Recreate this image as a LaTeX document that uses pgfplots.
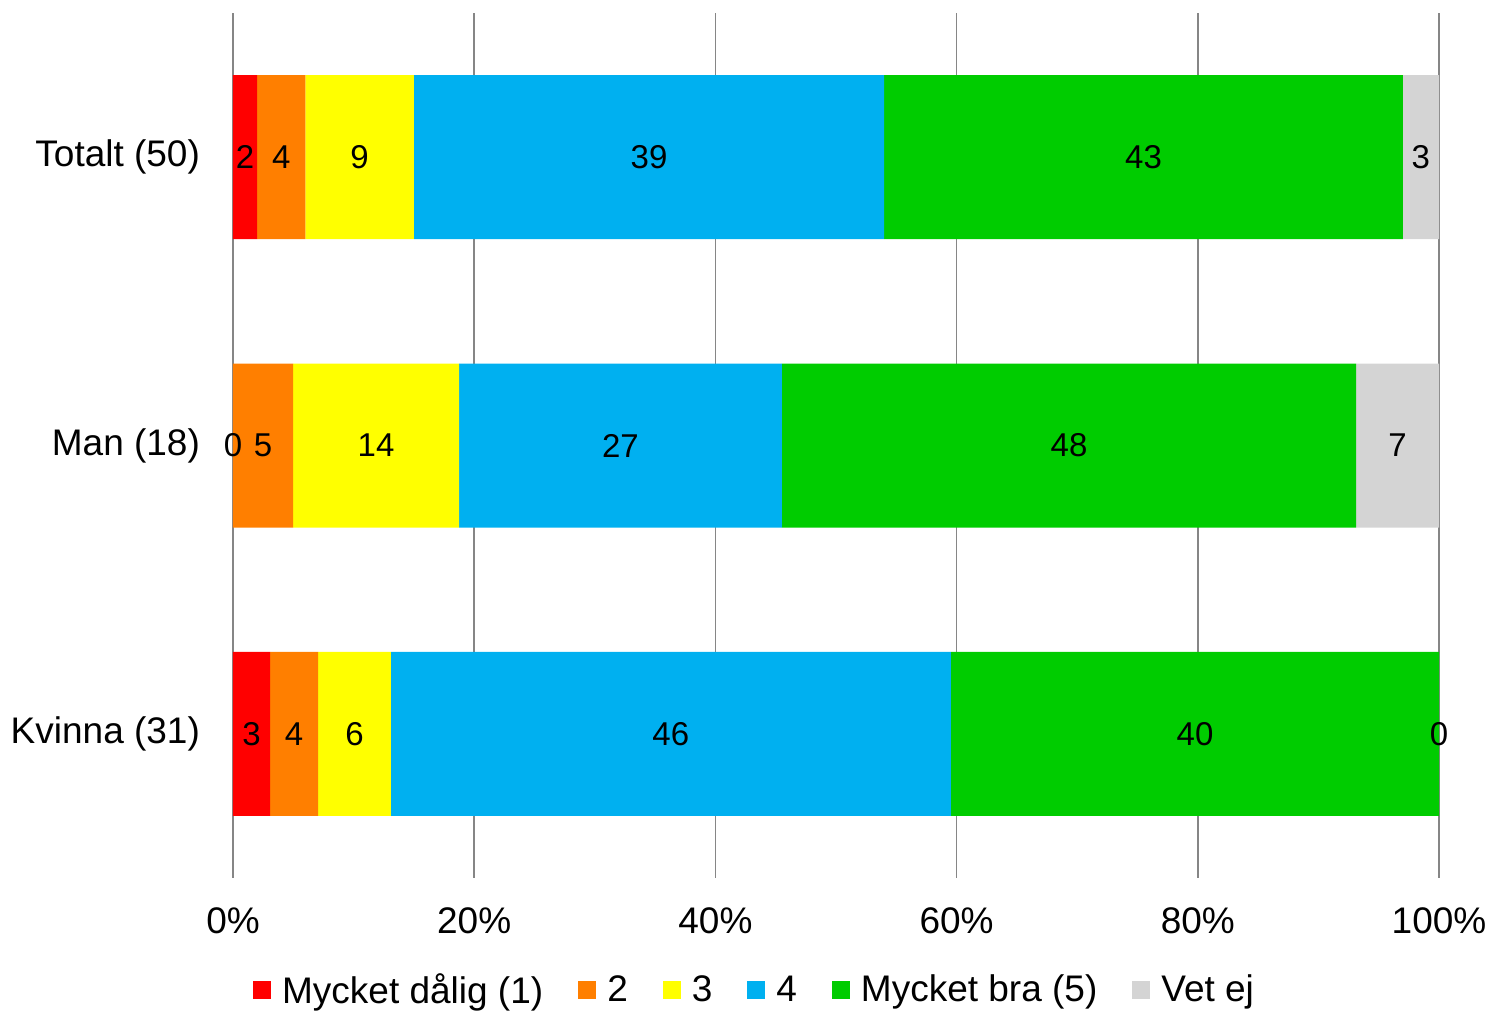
\documentclass[border=0pt]{standalone}
\usepackage{pgfplots}
\pgfplotsset{compat=1.18}
\usepackage{fontspec}
\setmainfont{Liberation Sans}
\definecolor{cRed}{HTML}{FF0000}
\definecolor{cOrange}{HTML}{FF7F00}
\definecolor{cYellow}{HTML}{FFFF00}
\definecolor{cBlue}{HTML}{00B0F0}
\definecolor{cGreen}{HTML}{00CC00}
\definecolor{cGrey}{HTML}{D4D4D4}
\definecolor{cGrid}{HTML}{868686}
\begin{document}
\begin{tikzpicture}
\pgfplotsset{common/.style={width=603pt,height=432.5pt,scale only axis,
  at={(0,0)},anchor=south west,xmin=0,xmax=100,ymin=-0.5,ymax=2.5,y dir=reverse}}
\begin{axis}[common, xbar stacked, bar width=82pt,
  xtick={0,20,40,60,80,100},
  xticklabels={0\%,20\%,40\%,60\%,80\%,100\%},
  ytick={0,1,2},
  yticklabels={Totalt (50),Man (18),Kvinna (31)},
  xmajorgrids, grid style={cGrid,line width=0.75pt},
  axis line style={draw=none}, major tick length=0pt,
  ticklabel style={font=\fontsize{18.5}{22}\selectfont},
  xticklabel style={anchor=base,yshift=-27.5pt},
  yticklabel style={xshift=-13pt},
  legend columns=6,
  legend image code/.code={\fill[#1] (0pt,-4.5pt) rectangle (9pt,4.5pt);},
  legend style={at={(axis description cs:0.4333,-0.1295)},anchor=center,
    draw=none,fill=none,inner sep=0pt,
    font=\fontsize{18.5}{22}\selectfont,
    /tikz/every odd column/.append style={column sep=3.5pt},
    /tikz/every even column/.append style={column sep=15.5pt}},
]
\addplot[fill=cRed,draw=none] coordinates {(2,0) (0,1) (3.07,2)};
\addplot[fill=cOrange,draw=none] coordinates {(4,0) (4.98,1) (3.98,2)};
\addplot[fill=cYellow,draw=none] coordinates {(9,0) (13.76,1) (6.05,2)};
\addplot[fill=cBlue,draw=none] coordinates {(39,0) (26.78,1) (46.43,2)};
\addplot[fill=cGreen,draw=none] coordinates {(43,0) (47.6,1) (40.47,2)};
\addplot[fill=cGrey,draw=none] coordinates {(3,0) (6.88,1) (0,2)};
\legend{Mycket dålig (1),2,3,4,Mycket bra (5),Vet ej}
\end{axis}
\begin{axis}[common, hide axis, clip=false]
\addplot[draw=none,mark=none,nodes near coords,point meta=explicit symbolic,
  every node near coord/.append style={anchor=center,font=\fontsize{16.5}{19}\selectfont}]
  table[meta=label] {
x y label
1 0 2
4 0 4
10.5 0 9
34.5 0 39
75.5 0 43
98.5 0 3
0 1 0
2.49 1 5
11.86 1 14
32.13 1 27
69.32 1 48
96.56 1 7
1.53 2 3
5.06 2 4
10.07 2 6
36.3 2 46
79.77 2 40
100 2 0
};
\end{axis}
\pgfresetboundingbox
\path (-116.5pt,-66.5pt) rectangle (628pt,439pt);
\end{tikzpicture}
\end{document}
